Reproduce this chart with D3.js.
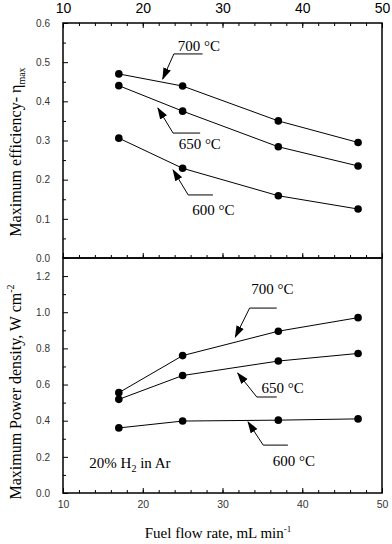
<!DOCTYPE html>
<html>
<head>
<meta charset="utf-8">
<script src="https://cdn.jsdelivr.net/npm/d3@7"></script>
<style>
  body { margin: 0; background: #fff; }
  svg { display: block; }
</style>
</head>
<body>
<div id="chart-area"></div>
<script>
// fuel flow rate, mL/min
const flowRate = [17, 25, 37, 47];

// maximum efficiency (top panel)
const eff700 = [0.47, 0.439, 0.35, 0.295];
const eff650 = [0.44, 0.375, 0.284, 0.235];
const eff600 = [0.306, 0.229, 0.159, 0.125];

// maximum power density, W cm-2 (bottom panel)
const pow700 = [0.555, 0.76, 0.895, 0.97];
const pow650 = [0.518, 0.65, 0.73, 0.772];
const pow600 = [0.36, 0.398, 0.403, 0.41];

const xTicks = [10, 20, 30, 40, 50];
const effTicks = [0, 0.1, 0.2, 0.3, 0.4, 0.5, 0.6];
const powTicks = [0, 0.2, 0.4, 0.6, 0.8, 1.0, 1.2];

// labels: [text, tipX, tipY, elbowX, elbowY, endX, textX, textY]
const effNotes = [
    ["700 \u00B0C", 22.5, 0.457, 23.9, 0.521, 27.5, 24.4, 0.528],
    ["650 \u00B0C", 21.9, 0.383, 23.8, 0.319, 27.2, 24.5, 0.278],
    ["600 \u00B0C", 23.8, 0.225, 25.7, 0.161, 28.8, 26.2, 0.110]
];
const powNotes = [
    ["700 \u00B0C", 31.6, 0.863, 33.4, 1.023, 36.8, 33.6, 1.100],
    ["650 \u00B0C", 31.9, 0.664, 34.3, 0.531, 36.8, 34.9, 0.553],
    ["600 \u00B0C", 33.2, 0.393, 35.1, 0.265, 38.2, 36.3, 0.150]
];

const width = 392;
const height = 544;
const margin = {left: 63, right: 10, top: 23};
const plotW = 319;
const panelH = 235;

const svg = d3.select("#chart-area")
    .append("svg")
    .attr("width", width)
    .attr("height", height);

svg.append("defs").append("marker")
    .attr("id", "arrow")
    .attr("viewBox", "0 0 12 10")
    .attr("refX", 11)
    .attr("refY", 5)
    .attr("markerWidth", 12)
    .attr("markerHeight", 10)
    .attr("markerUnits", "userSpaceOnUse")
    .attr("orient", "auto")
    .append("path")
    .attr("d", "M0,1 L12,5 L0,9 z")
    .attr("fill", "black");

const x = d3.scaleLinear()
    .domain([10, 50])
    .range([0, plotW]);

const yEff = d3.scaleLinear()
    .domain([0, 0.6])
    .range([panelH, 0]);

const yPow = d3.scaleLinear()
    .domain([0, 1.3])
    .range([panelH, 0]);

const xMinor = d3.range(10, 50.1, 2);

const gTop = svg.append("g")
    .attr("transform", "translate(" + margin.left + "," + margin.top + ")");
const gBot = svg.append("g")
    .attr("transform", "translate(" + margin.left + "," + (margin.top + panelH) + ")");

function tickStyle(g) {
    g.select(".domain").remove();
    g.selectAll("line").attr("stroke", "black").attr("stroke-width", 1);
}

// top panel axes
gTop.append("g")
    .attr("class", "top axis")
    .call(d3.axisTop(x).tickValues(xTicks).tickSizeInner(-5).tickSizeOuter(0).tickPadding(10))
    .call(tickStyle)
    .call(g => g.selectAll("text")
        .attr("font-family", "Liberation Sans, Arial, sans-serif")
        .attr("font-size", "14px")
        .attr("fill", "black"));

gTop.append("g")
    .call(d3.axisTop(x).tickValues(xMinor).tickSize(-3).tickFormat(""))
    .call(tickStyle);

gTop.append("g")
    .attr("transform", "translate(0," + panelH + ")")
    .call(d3.axisBottom(x).tickValues(xTicks).tickSizeInner(-5).tickSizeOuter(0).tickFormat(""))
    .call(tickStyle);

gTop.append("g")
    .attr("transform", "translate(0," + panelH + ")")
    .call(d3.axisBottom(x).tickValues(xMinor).tickSize(-3).tickFormat(""))
    .call(tickStyle);

gTop.append("g")
    .attr("class", "left axis")
    .call(d3.axisLeft(yEff).tickValues(effTicks).tickSizeInner(-5).tickSizeOuter(0)
        .tickPadding(13).tickFormat(d3.format(".1f")))
    .call(tickStyle)
    .call(g => g.selectAll("text")
        .attr("font-family", "Liberation Sans, Arial, sans-serif")
        .attr("font-size", "10px")
        .attr("fill", "#333"));

gTop.append("g")
    .call(d3.axisLeft(yEff).tickValues(d3.range(0.05, 0.6, 0.1)).tickSize(-3).tickFormat(""))
    .call(tickStyle);

// bottom panel axes
gBot.append("g")
    .attr("class", "bottom axis")
    .attr("transform", "translate(0," + panelH + ")")
    .call(d3.axisBottom(x).tickValues(xTicks).tickSizeInner(-5).tickSizeOuter(0).tickPadding(8))
    .call(tickStyle)
    .call(g => g.selectAll("text")
        .attr("font-family", "Liberation Sans, Arial, sans-serif")
        .attr("font-size", "10.5px")
        .attr("fill", "#333"));

gBot.append("g")
    .attr("transform", "translate(0," + panelH + ")")
    .call(d3.axisBottom(x).tickValues(xMinor).tickSize(-3).tickFormat(""))
    .call(tickStyle);

gBot.append("g")
    .attr("class", "left axis")
    .call(d3.axisLeft(yPow).tickValues(powTicks).tickSizeInner(-5).tickSizeOuter(0)
        .tickPadding(13).tickFormat(d3.format(".1f")))
    .call(tickStyle)
    .call(g => g.selectAll("text")
        .attr("font-family", "Liberation Sans, Arial, sans-serif")
        .attr("font-size", "10px")
        .attr("fill", "#333"));

gBot.append("g")
    .call(d3.axisLeft(yPow).tickValues(d3.range(0.1, 1.3, 0.2)).tickSize(-3).tickFormat(""))
    .call(tickStyle);

// frames
[gTop, gBot].forEach(g => {
    g.append("rect")
        .attr("width", plotW)
        .attr("height", panelH)
        .attr("fill", "none")
        .attr("stroke", "black")
        .attr("stroke-width", 1.5);
});

// series
function drawSeries(g, y, vals) {
    const pts = flowRate.map((f, i) => [f, vals[i]]);
    g.append("path")
        .datum(pts)
        .attr("fill", "none")
        .attr("stroke", "black")
        .attr("stroke-width", 1)
        .attr("d", d3.line().x(d => x(d[0])).y(d => y(d[1])));
    g.selectAll(null)
        .data(pts)
        .enter()
        .append("circle")
            .attr("cx", d => x(d[0]))
            .attr("cy", d => y(d[1]))
            .attr("r", 3.8)
            .attr("fill", "black");
}

[eff700, eff650, eff600].forEach(v => drawSeries(gTop, yEff, v));
[pow700, pow650, pow600].forEach(v => drawSeries(gBot, yPow, v));

// callouts
function drawNotes(g, y, notes) {
    notes.forEach(n => {
        g.append("path")
            .attr("fill", "none")
            .attr("stroke", "black")
            .attr("stroke-width", 1)
            .attr("d", "M" + x(n[5]) + "," + y(n[4]) +
                       "L" + x(n[3]) + "," + y(n[4]) +
                       "L" + x(n[1]) + "," + y(n[2]))
            .attr("marker-end", "url(#arrow)");
        g.append("text")
            .attr("x", x(n[6]))
            .attr("y", y(n[7]))
            .attr("font-family", "Liberation Serif, Times New Roman, serif")
            .attr("font-size", "15px")
            .attr("fill", "black")
            .text(n[0]);
    });
}

drawNotes(gTop, yEff, effNotes);
drawNotes(gBot, yPow, powNotes);

const gas = gBot.append("text")
    .attr("x", x(13.3))
    .attr("y", yPow(0.14))
    .attr("font-family", "Liberation Serif, Times New Roman, serif")
    .attr("font-size", "15px")
    .attr("fill", "black");
gas.append("tspan").text("20% H");
gas.append("tspan").attr("font-size", "10px").attr("dy", 4).text("2");
gas.append("tspan").attr("dy", -4).text(" in Ar");

// axis titles
const serif = "Liberation Serif, Times New Roman, serif";

const t1 = svg.append("text")
    .attr("transform", "translate(21," + 152 + ") rotate(-90)")
    .attr("text-anchor", "middle")
    .attr("font-family", serif)
    .attr("font-size", "16px")
    .attr("fill", "black");
t1.append("tspan").text("Maximum efficiency- \u03B7");
t1.append("tspan").attr("font-size", "10px").attr("dy", 4).text("max");

const t2 = svg.append("text")
    .attr("transform", "translate(21," + 392 + ") rotate(-90)")
    .attr("text-anchor", "middle")
    .attr("font-family", serif)
    .attr("font-size", "16px")
    .attr("fill", "black");
t2.append("tspan").text("Maximum Power density, W cm");
t2.append("tspan").attr("font-size", "10px").attr("dy", -7).text("-2");

const t3 = svg.append("text")
    .attr("x", 218)
    .attr("y", 538)
    .attr("text-anchor", "middle")
    .attr("font-family", serif)
    .attr("font-size", "15px")
    .attr("fill", "black");
t3.append("tspan").text("Fuel flow rate, mL min");
t3.append("tspan").attr("font-size", "9px").attr("dy", -6).text("-1");
</script>
</body>
</html>
